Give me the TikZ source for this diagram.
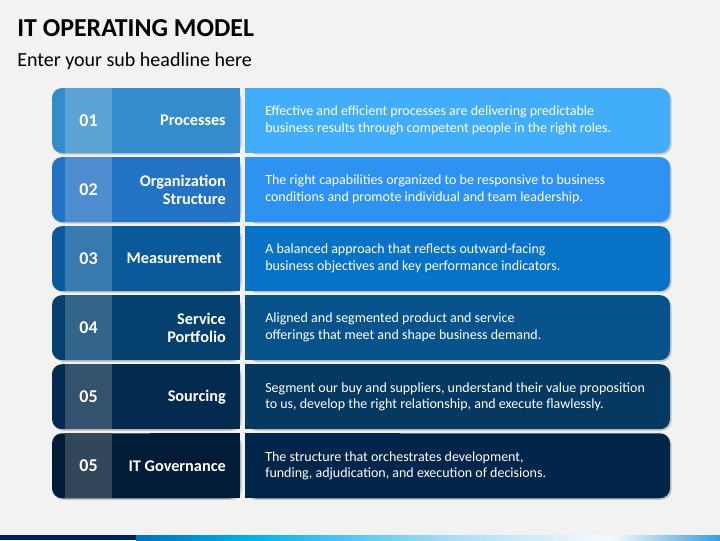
\documentclass[tikz,border=0pt]{standalone}
\usepackage{fontspec}
\setmainfont{Carlito}
\usepackage{tikz}
\usetikzlibrary{
		positioning
	}
\definecolor{bgc}{HTML}{F2F2F2}
\definecolor{lefta}{HTML}{348BCD}
\definecolor{stripa}{HTML}{5DA4D6}
\definecolor{desca}{HTML}{42AEFA}
\definecolor{leftb}{HTML}{2273C4}
\definecolor{stripb}{HTML}{4E8ED0}
\definecolor{descb}{HTML}{2E92F3}
\definecolor{leftc}{HTML}{09599B}
\definecolor{stripc}{HTML}{367AB0}
\definecolor{descc}{HTML}{0872C6}
\definecolor{leftd}{HTML}{06406F}
\definecolor{stripd}{HTML}{33658A}
\definecolor{descd}{HTML}{09538C}
\definecolor{lefte}{HTML}{042B4F}
\definecolor{stripe}{HTML}{34526D}
\definecolor{desce}{HTML}{063961}
\definecolor{leftf}{HTML}{021C38}
\definecolor{stripf}{HTML}{34465A}
\definecolor{descf}{HTML}{02254A}
\definecolor{navy}{HTML}{002060}
\definecolor{bluea}{HTML}{0070C0}
\definecolor{blueb}{HTML}{00B0F0}
\definecolor{bluec}{HTML}{A8DDF5}
\definecolor{blued}{HTML}{F5FBFF}
\definecolor{bluee}{HTML}{3C9CDC}
\tikzset{
		numtext/.style={text=white, inner sep=0, font=\fontsize{13.5}{16}\selectfont\bfseries},
		labtext/.style={text=white, inner sep=0, anchor=east, align=right, font=\fontsize{12.2}{13.7}\selectfont\bfseries},
		desctext/.style={text=white, inner sep=0, anchor=west, align=left, font=\fontsize{10.5}{12.5}\selectfont},
		panelshadow/.style={fill=black, opacity=0.18, xshift=1.2pt, yshift=-1.2pt}
	}
\begin{document}
\begin{tikzpicture}[x=0.75pt, y=-0.75pt]
    % the background
    \fill[bgc] (0,0) rectangle (720,540);
    \useasboundingbox (0,0) rectangle (720,540);

    % the headline
    \node[anchor=base west, inner sep=0, font=\fontsize{19.4}{23}\selectfont\bfseries] (title) at (17,36) {IT OPERATING MODEL};
    \node[anchor=base west, inner sep=0, font=\fontsize{15}{18}\selectfont] (subtitle) at (17,66) {Enter your sub headline here};

    % draw the bars (the left part with the number strip, and the text part)
    \foreach \i/\cl/\cs/\cd in {0/lefta/stripa/desca, 1/leftb/stripb/descb, 2/leftc/stripc/descc,
                               3/leftd/stripd/descd, 4/lefte/stripe/desce, 5/leftf/stripf/descf}{
        \pgfmathsetmacro{\ytop}{88+69.05*\i}
        \pgfmathsetmacro{\ybot}{\ytop+65}
        \fill[panelshadow, rounded corners=7.5pt] (52,\ytop) rectangle (240,\ybot);
        \fill[panelshadow, rounded corners=7.5pt] (245,\ytop) rectangle (670,\ybot);
        \fill[\cl, rounded corners=7.5pt] (52,\ytop) rectangle (240,\ybot);
        \fill[\cl] (150,\ytop) rectangle (240,\ybot);
        \fill[\cs] (65,\ytop) rectangle (112,\ybot);
        \fill[\cd, rounded corners=7.5pt] (245,\ytop) rectangle (670,\ybot);
        \fill[\cd] (245,\ytop) rectangle (400,\ybot);
    }

    % the numbers
    \node[numtext] (num1) at (88.5,120.5) {01};
    \node[numtext] (num2) at (88.5,189.55) {02};
    \node[numtext] (num3) at (88.5,258.6) {03};
    \node[numtext] (num4) at (88.5,327.65) {04};
    \node[numtext] (num5) at (88.5,396.7) {05};
    \node[numtext] (num6) at (88.5,465.75) {05};

    % the names of the steps
    \node[labtext] (lab1) at (226,120.5) {Processes};
    \node[labtext] (lab2) at (226,189.55) {Organization\\Structure};
    \node[labtext] (lab3) at (222,258.6) {Measurement};
    \node[labtext] (lab4) at (226,327.65) {Service\\Portfolio};
    \node[labtext] (lab5) at (226,396.7) {Sourcing};
    \node[labtext] (lab6) at (226,465.75) {IT Governance};

    % the descriptions
    \node[desctext] (desc1) at (265,120.5) {Effective and efficient processes are delivering predictable\\business results through competent people in the right roles.};
    \node[desctext] (desc2) at (265,189.55) {The right capabilities organized to be responsive to business\\conditions and promote individual and team leadership.};
    \node[desctext] (desc3) at (265,258.6) {A balanced approach that reflects outward-facing\\business objectives and key performance indicators.};
    \node[desctext] (desc4) at (265,327.65) {Aligned and segmented product and service\\offerings that meet and shape business demand.};
    \node[desctext] (desc5) at (265,396.7) {Segment our buy and suppliers, understand their value proposition\\to us, develop the right relationship, and execute flawlessly.};
    \node[desctext] (desc6) at (265,465.75) {The structure that orchestrates development,\\funding, adjudication, and execution of decisions.};

    % the strip at the bottom
    \fill[navy] (0,535) rectangle (136,540);
    \shade[left color=bluea, right color=blueb] (136,535) rectangle (250,540);
    \shade[left color=blueb, right color=bluec] (250,535) rectangle (450,540);
    \shade[left color=bluec, right color=blued] (450,535) rectangle (610,540);
    \shade[left color=blued, right color=bluee] (610,535) rectangle (720,540);

\end{tikzpicture}
\end{document}
